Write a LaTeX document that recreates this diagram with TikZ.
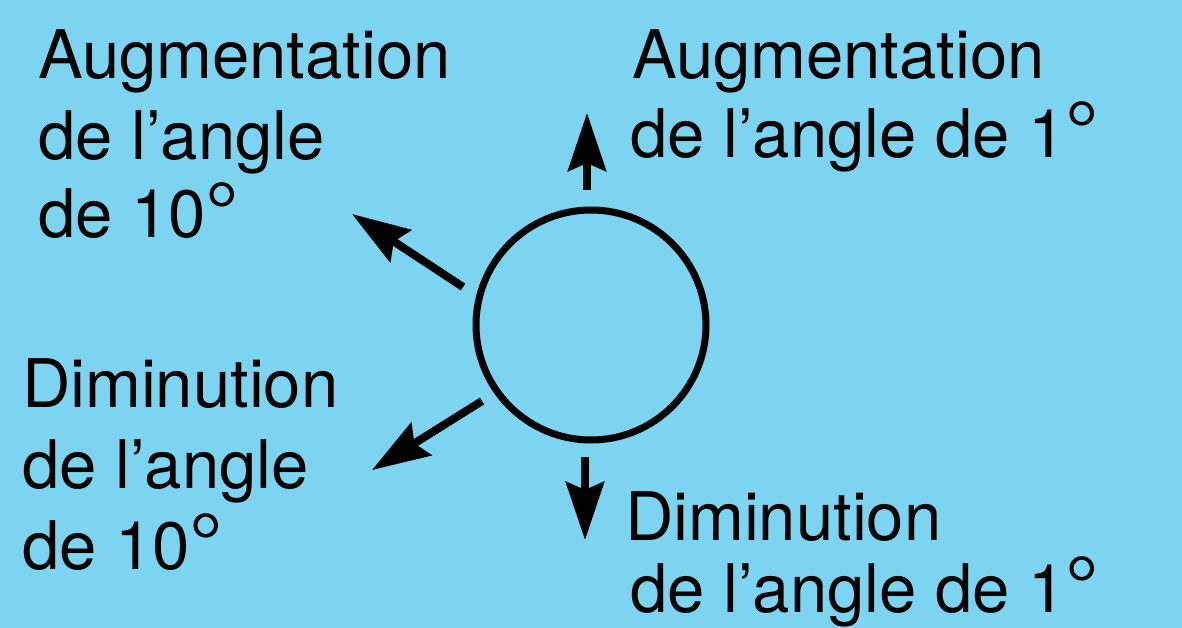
\documentclass[tikz,border=0pt]{standalone}
\usepackage{fontspec}
\setmainfont{TeX Gyre Heros}
\usetikzlibrary{arrows.meta}
\definecolor{bgblue}{RGB}{125,212,241}
\tikzset{
  lbl/.style={anchor=base west, inner sep=0pt, outer sep=0pt, font=\fontsize{67}{80}\selectfont, text=black},
  arr/.style={black, line width=8pt, arrows={-Stealth[length=58pt, width=38pt, inset=8pt]}},
}
\newcommand\dgr{\raisebox{-3pt}{\scalebox{1.25}{°}}}
\begin{document}
\begin{tikzpicture}[x=1pt, y=-1pt]
\fill[bgblue] (0,0) rectangle (1182,628);
\useasboundingbox (0,0) rectangle (1182,628);
% circle
\node[circle, draw=black, line width=7pt, minimum size=230pt, inner sep=0pt] (c) at (591,325) {};
% texts
\node[lbl] (tl1) at (38,79) {Augmentation};
\node[lbl] (tl2) at (38,160) {de l’angle};
\node[lbl] (tl3) at (38,238) {de 10\dgr};
\node[lbl] (tr1) at (632,79) {Augmentation};
\node[lbl] (tr2) at (630,158) {de l’angle de 1\dgr};
\node[lbl] (bl1) at (22,407) {Diminution};
\node[lbl] (bl2) at (22,488) {de l’angle};
\node[lbl] (bl3) at (22,569) {de 10\dgr};
\node[lbl] (br1) at (625,540) {Diminution};
\node[lbl] (br2) at (630,612) {de l’angle de 1\dgr};
% arrow end points
\coordinate (upS) at (587,190);
\coordinate (upT) at (587,113);
\coordinate (dnS) at (585,457);
\coordinate (dnT) at (585,540);
\coordinate (ulS) at (463,287);
\coordinate (ulT) at (352,214);
\coordinate (llS) at (482,401);
\coordinate (llT) at (372,470);
\draw[arr] (upS) -- (upT);
\draw[arr] (dnS) -- (dnT);
\draw[arr] (ulS) -- (ulT);
\draw[arr] (llS) -- (llT);
\end{tikzpicture}
\end{document}
